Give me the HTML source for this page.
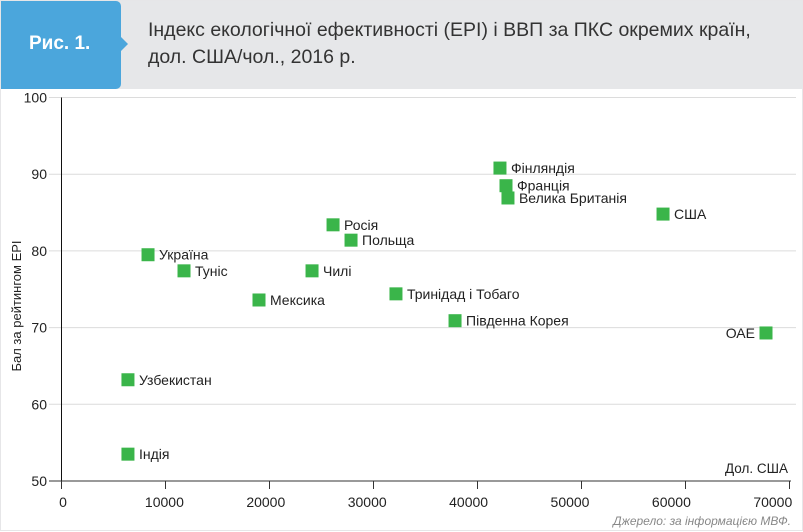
<!DOCTYPE html>
<html><head><meta charset="utf-8"><style>
body{margin:0;width:803px;height:531px;overflow:hidden;background:#fff;font-family:"Liberation Sans","DejaVu Sans",sans-serif;}
#wrap{position:relative;width:801px;height:529px;border:1px solid #e6e6e8;background:#fff}
#hdr{position:absolute;left:0;top:0;width:801px;height:88px;background:#e6e7e9}
#tab{position:absolute;left:0;top:0;width:120px;height:88px;background:#4ba6dc;border-radius:0 5px 5px 0}
#tab span{position:absolute;left:28px;top:32px;color:#fff;font-weight:bold;font-size:19px}
#arrow{position:absolute;left:120px;top:36px;width:0;height:0;border-top:7px solid transparent;border-bottom:7px solid transparent;border-left:7px solid #4ba6dc}
#title{position:absolute;left:147px;top:16px;font-size:19.5px;line-height:27px;color:#333}
svg{position:absolute;left:0;top:0}
</style></head><body>
<div id="wrap">
<div id="hdr"></div>
<div id="tab"><span>Рис. 1.</span></div>
<div id="arrow"></div>
<div id="title">Індекс екологічної ефективності (EPI) і ВВП за ПКС окремих країн,<br>дол. США/чол., 2016 р.</div>
<svg id="chart" width="803" height="531"></svg>
</div>
<script>
const countries=["Фінляндія","Франція","Велика Британія","США","Росія","Польща","Україна","Туніс","Чилі","Мексика","Тринідад і Тобаго","Південна Корея","ОАЕ","Узбекистан","Індія"];
const gdp=[42160,42740,42930,57840,26110,27840,8320,11780,24090,18990,32160,37840,67740,6390,6390];
const epi=[90.8,88.5,86.9,84.8,83.4,81.4,79.5,77.4,77.4,73.6,74.4,70.9,69.3,63.2,53.5];
const xTicks=[0,10000,20000,30000,40000,50000,60000,70000];
const yTicks=[50,60,70,80,90,100];
const NS="http://www.w3.org/2000/svg";
const svg=document.getElementById('chart');
const X=v=>60.5+v*0.0104;
const Y=v=>480-(v-50)*7.67;
function mk(t,a,txt){const e=document.createElementNS(NS,t);for(const k in a)e.setAttribute(k,a[k]);if(txt!=null)e.textContent=txt;svg.appendChild(e);return e;}
yTicks.forEach(t=>{
 if(t>50){const g=mk('line',{x1:48,x2:795,y1:Y(t),y2:Y(t),stroke:'#dcdcdc','stroke-width':1});
 
 }
 const l=mk('text',{x:46,y:Y(t)+5,'text-anchor':'end','font-size':14,fill:'#222'},t);
 
 
});
const ya=mk('line',{x1:60.5,x2:60.5,y1:Y(100),y2:480,stroke:'#111','stroke-width':1});


const xa=mk('line',{x1:48,x2:790,y1:480,y2:480,stroke:'#333','stroke-width':1});


xTicks.forEach((t,i)=>{
 const tk=mk('line',{x1:X(t),x2:X(t),y1:480,y2:488,stroke:'#333','stroke-width':1});
 
 
 const l=mk('text',{x:62+i*101.4,y:506,'text-anchor':'middle','font-size':14,fill:'#222'},t);
 
 
});
const yt=mk('text',{x:0,y:0,'font-size':13,fill:'#222','text-anchor':'middle',transform:'translate(20,305) rotate(-90)'},'Бал за рейтингом EPI');


const xt=mk('text',{x:787,y:472,'font-size':13.5,fill:'#222','text-anchor':'end'},'Дол. США');


const src=mk('text',{x:790,y:524,'font-size':12,fill:'#888','font-style':'italic','text-anchor':'end'},'Джерело: за інформацією МВФ.');


countries.forEach((c,i)=>{
 const cx=X(gdp[i]),cy=Y(epi[i]);
 const r=mk('rect',{x:cx-6.5,y:cy-6.5,width:13,height:13,fill:'#3ab54a'});
 
 
 const left=c==="ОАЕ";
 const l=mk('text',{x:left?cx-11:cx+11,y:cy+5,'font-size':14,fill:'#222','text-anchor':left?'end':'start'},c);
 
 
});
</script>
</body></html>
